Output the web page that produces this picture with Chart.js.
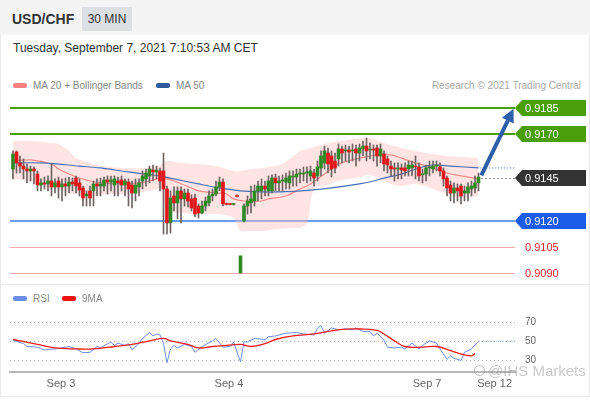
<!DOCTYPE html>
<html><head><meta charset="utf-8">
<script src="https://cdn.jsdelivr.net/npm/chart.js@4"></script>
<style>
body{margin:0;background:#fff;font-family:"Liberation Sans",Arial,sans-serif;}
#wrap{position:relative;width:590px;height:400px;overflow:hidden;background:#fff;}
#hdr{position:absolute;left:0;top:0;width:590px;height:35px;background:#f4f4f5;}
#sym{position:absolute;left:12px;top:11px;font-weight:bold;font-size:14px;line-height:16px;color:#333;}
#tf{position:absolute;left:82px;top:7px;width:50px;height:24px;background:#dcdfe4;font-size:12px;line-height:24px;text-align:center;color:#333;}
#date{position:absolute;left:13px;top:41px;font-size:12px;line-height:14px;color:#333;}
.leg{position:absolute;font-size:10px;line-height:12px;color:#888;white-space:nowrap;}
.leg i{display:inline-block;width:14px;height:5px;border-radius:2px;margin-right:6px;vertical-align:1px;}
#rc{position:absolute;right:9px;top:80px;font-size:10px;line-height:12px;color:#aaa;}
#bl{position:absolute;left:0;top:35px;width:588px;height:361px;border:1px solid #e9e9e9;border-top:none;}
#sep{position:absolute;left:0;top:284px;width:590px;height:1px;background:#e6e6e6;}
#wm{position:absolute;left:474px;top:362px;font-size:15px;line-height:18px;color:rgba(120,120,120,0.4);white-space:nowrap;}
#wm b{display:inline-block;width:9px;height:9px;border:1.5px solid rgba(120,120,120,0.45);border-radius:50%;margin-right:3px;vertical-align:0px;}
canvas{position:absolute;left:0;}
</style></head>
<body><div id="wrap">
<div id="hdr"><span id="sym">USD/CHF</span><span id="tf">30 MIN</span></div>
<div id="bl"></div>
<div id="date">Tuesday, September 7, 2021 7:10:53 AM CET</div>
<div class="leg" style="left:13px;top:80px"><i style="background:#ff8080"></i>MA 20 + Bollinger Bands</div>
<div class="leg" style="left:156px;top:80px"><i style="background:#2f5a9c"></i>MA 50</div>
<div id="rc">Research © 2021 Trading Central</div>
<canvas id="main" width="590" height="190" style="top:96px"></canvas>
<div id="sep"></div>
<div class="leg" style="left:13px;top:293px"><i style="background:#6a8ee8"></i>RSI</div>
<div class="leg" style="left:62px;top:293px"><i style="background:#ee1111"></i>9MA</div>
<canvas id="rsi" width="590" height="112" style="top:285px"></canvas>
<div id="wm"><b></b>@IHS Markets</div>
</div>
<script>
const opens = [0.91499,0.91597,0.91534,0.91516,0.91499,0.91488,0.91499,0.91470,0.91407,0.91419,
0.91413,0.91430,0.91396,0.91430,0.91396,0.91413,0.91401,0.91424,0.91447,0.91419,
0.91390,0.91344,0.91373,0.91373,0.91413,0.91401,0.91401,0.91436,0.91424,0.91407,
0.91430,0.91436,0.91407,0.91424,0.91407,0.91361,0.91396,0.91430,0.91442,0.91459,
0.91493,0.91482,0.91488,0.91488,0.91384,0.91189,0.91344,0.91304,0.91373,0.91327,
0.91361,0.91327,0.91332,0.91286,0.91246,0.91286,0.91304,0.91344,0.91355,0.91396,
0.91424,0.91298,0.91298,0.91295,0.91344,0.90901,0.91200,0.91286,0.91304,0.91315,
0.91373,0.91373,0.91401,0.91373,0.91373,0.91447,0.91419,0.91430,0.91424,0.91419,
0.91453,0.91453,0.91470,0.91470,0.91476,0.91459,0.91476,0.91459,0.91505,0.91534,
0.91591,0.91574,0.91545,0.91557,0.91614,0.91603,0.91608,0.91603,0.91614,0.91591,
0.91614,0.91631,0.91608,0.91614,0.91620,0.91574,0.91585,0.91557,0.91516,0.91505,
0.91499,0.91505,0.91505,0.91499,0.91505,0.91516,0.91511,0.91465,0.91470,0.91505,
0.91499,0.91516,0.91511,0.91488,0.91447,0.91407,0.91361,0.91390,0.91401,0.91361,
0.91361,0.91384,0.91390,0.91419];
const highs = [0.91603,0.91603,0.91574,0.91557,0.91528,0.91516,0.91511,0.91488,0.91442,0.91453,
0.91459,0.91528,0.91442,0.91453,0.91442,0.91447,0.91453,0.91447,0.91459,0.91442,
0.91401,0.91373,0.91401,0.91430,0.91442,0.91447,0.91453,0.91459,0.91459,0.91459,
0.91453,0.91459,0.91442,0.91442,0.91430,0.91442,0.91442,0.91488,0.91499,0.91516,
0.91522,0.91516,0.91505,0.91591,0.91401,0.91373,0.91396,0.91396,0.91396,0.91384,
0.91384,0.91350,0.91355,0.91298,0.91315,0.91338,0.91373,0.91384,0.91430,0.91453,
0.91442,0.91304,0.91300,0.91300,0.91350,0.90999,0.91298,0.91344,0.91401,0.91407,
0.91430,0.91442,0.91430,0.91459,0.91465,0.91470,0.91459,0.91465,0.91476,0.91488,
0.91488,0.91499,0.91499,0.91511,0.91511,0.91516,0.91499,0.91545,0.91603,0.91631,
0.91620,0.91603,0.91591,0.91643,0.91631,0.91637,0.91631,0.91643,0.91637,0.91643,
0.91660,0.91677,0.91649,0.91637,0.91637,0.91643,0.91603,0.91574,0.91545,0.91534,
0.91534,0.91528,0.91534,0.91545,0.91545,0.91574,0.91534,0.91499,0.91522,0.91545,
0.91545,0.91545,0.91534,0.91505,0.91459,0.91430,0.91419,0.91413,0.91413,0.91401,
0.91419,0.91430,0.91459,0.91476];
const lows = [0.91442,0.91476,0.91476,0.91442,0.91419,0.91430,0.91413,0.91373,0.91373,0.91384,
0.91373,0.91344,0.91361,0.91332,0.91315,0.91344,0.91361,0.91373,0.91361,0.91344,
0.91286,0.91286,0.91286,0.91286,0.91344,0.91344,0.91373,0.91355,0.91373,0.91344,
0.91344,0.91373,0.91344,0.91286,0.91275,0.91315,0.91344,0.91384,0.91401,0.91419,
0.91430,0.91442,0.91373,0.91125,0.91125,0.91131,0.91258,0.91212,0.91189,0.91286,
0.91281,0.91258,0.91223,0.91217,0.91240,0.91258,0.91286,0.91315,0.91344,0.91373,
0.91286,0.91292,0.91292,0.91292,0.91338,0.90901,0.91194,0.91240,0.91246,0.91286,
0.91315,0.91327,0.91344,0.91344,0.91361,0.91373,0.91373,0.91373,0.91384,0.91384,
0.91401,0.91401,0.91419,0.91430,0.91419,0.91430,0.91401,0.91430,0.91459,0.91499,
0.91476,0.91453,0.91476,0.91516,0.91534,0.91545,0.91534,0.91545,0.91516,0.91545,
0.91574,0.91545,0.91557,0.91545,0.91516,0.91534,0.91488,0.91476,0.91459,0.91430,
0.91442,0.91442,0.91459,0.91459,0.91459,0.91442,0.91430,0.91419,0.91430,0.91459,
0.91476,0.91488,0.91459,0.91401,0.91344,0.91315,0.91304,0.91315,0.91298,0.91315,
0.91315,0.91344,0.91361,0.91373];
const closes = [0.91585,0.91534,0.91516,0.91499,0.91488,0.91499,0.91488,0.91407,0.91419,0.91413,
0.91430,0.91396,0.91419,0.91396,0.91413,0.91401,0.91424,0.91413,0.91401,0.91378,
0.91332,0.91355,0.91332,0.91413,0.91401,0.91413,0.91436,0.91424,0.91436,0.91442,
0.91419,0.91407,0.91430,0.91384,0.91361,0.91407,0.91419,0.91459,0.91476,0.91499,
0.91482,0.91493,0.91430,0.91384,0.91189,0.91332,0.91304,0.91373,0.91327,0.91361,
0.91315,0.91275,0.91240,0.91246,0.91286,0.91315,0.91344,0.91355,0.91396,0.91424,
0.91298,0.91295,0.91295,0.91298,0.91341,0.90999,0.91286,0.91315,0.91327,0.91373,
0.91401,0.91401,0.91384,0.91430,0.91447,0.91419,0.91430,0.91436,0.91447,0.91459,
0.91459,0.91470,0.91476,0.91476,0.91482,0.91488,0.91447,0.91511,0.91574,0.91603,
0.91528,0.91499,0.91505,0.91614,0.91591,0.91608,0.91597,0.91608,0.91591,0.91620,
0.91631,0.91603,0.91614,0.91608,0.91574,0.91614,0.91528,0.91522,0.91499,0.91499,
0.91505,0.91493,0.91488,0.91522,0.91522,0.91511,0.91459,0.91470,0.91505,0.91511,
0.91516,0.91522,0.91488,0.91442,0.91390,0.91361,0.91390,0.91373,0.91344,0.91373,
0.91396,0.91401,0.91419,0.91453];

const ma20X = [0,5,11,13,16,19,22,25,31,36,39,42,43,46,51,53,58,61,63,66,71,73,78,82,85,89,93,98,102,105,108,111,115,120,124,128,133];
const ma20Y = [0.91545,0.91551,0.91528,0.91499,0.91470,0.91447,0.91430,0.91419,0.91413,0.91419,0.91430,0.91447,0.91447,0.91430,0.91390,0.91373,0.91361,0.91355,0.91327,0.91315,0.91315,0.91327,0.91344,0.91384,0.91413,0.91470,0.91528,0.91557,0.91574,0.91585,0.91580,0.91562,0.91534,0.91505,0.91476,0.91459,0.91442];
const ma50X = [0,8,19,25,33,42,46,53,59,65,71,76,85,91,99,103,106,111,116,120,125,133];
const ma50Y = [0.91534,0.91534,0.91516,0.91505,0.91482,0.91459,0.91442,0.91413,0.91390,0.91373,0.91367,0.91367,0.91378,0.91390,0.91413,0.91430,0.91447,0.91470,0.91505,0.91522,0.91516,0.91505];
const ma50ExtX = [133.5,143.4];
const ma50ExtY = [0.91505,0.91505];
const bbX = [0,5,11,13,16,18,22,25,28,31,33,39,42,44,48,53,58,63,65,68,71,76,79,82,84,86,89,93,98,102,106,108,111,115,120,124,129,133];
const bbUpper = [0.91660,0.91660,0.91649,0.91643,0.91603,0.91562,0.91534,0.91516,0.91511,0.91505,0.91505,0.91505,0.91522,0.91545,0.91534,0.91528,0.91516,0.91488,0.91488,0.91499,0.91505,0.91522,0.91557,0.91603,0.91614,0.91626,0.91643,0.91660,0.91672,0.91677,0.91649,0.91637,0.91620,0.91603,0.91585,0.91574,0.91568,0.91562];
const bbLower = [0.91442,0.91430,0.91384,0.91378,0.91361,0.91355,0.91344,0.91350,0.91355,0.91355,0.91355,0.91373,0.91384,0.91258,0.91246,0.91240,0.91240,0.91217,0.91143,0.91143,0.91143,0.91154,0.91160,0.91160,0.91189,0.91384,0.91401,0.91430,0.91447,0.91465,0.91430,0.91413,0.91401,0.91413,0.91384,0.91355,0.91332,0.91344];

const rsiX = [0,3,4,7,9,12,14,16,18,20,22,24,25,28,29,30,32,33,34,36,37,39,40,41,42,43,44,45,46,47,49,51,52,54,57,58,60,62,63,65,66,67,69,72,73,75,78,81,83,86,87,88,89,91,93,95,97,98,100,102,103,104,106,107,109,111,112,114,116,117,119,121,122,124,125,126,128,129,131,132,133];
const rsiV = [51.1,47.5,44.5,43.8,41,42,43,44.5,42,38,38.4,44.5,43,49.3,45.6,48,45.6,47.5,41.3,47.5,53,59,55.5,57.6,56.5,48,27.5,42,45.6,43,46.7,44.5,38.4,44.5,50.4,52.9,43.8,44.5,49.3,28.5,49.3,49.3,52.9,51.8,54.7,55.5,58.4,59.1,57.6,56.5,63.8,66.4,58.4,63.8,62,62.7,62,63.8,60.2,60.2,55.5,58.4,51.1,43.8,43,43.8,42,48,42,45.6,50.4,48,42,31.1,34.7,32.2,30,38.4,42,46,50];
const rsiMaX = [0,7,12,18,23,29,34,39,43,45,50,53,57,61,65,68,72,75,80,86,90,95,100,104,106,109,112,117,121,125,129,131,132];
const rsiMaV = [51.8,46.7,43,42,42,44.5,46.7,50.4,52.9,50.4,46.7,43,44.5,45.6,46.7,44.5,47.5,51.8,55.5,57.6,60.2,62.7,62.7,61.3,57.6,50.4,44.5,43.8,44.5,40.2,35.8,34.7,37.3];
const rsiExtX = [133,143.4];
const rsiExtV = [50,50];
const rsiTicks = [30,50,70];

const tickPos = [13.7,61.7,118.3,137.6];
const tickLabels = ['Sep 3','Sep 4','Sep 7','Sep 12'];
const levelPrices = [0.9185,0.9170,0.9145,0.9120,0.9105,0.9090];
const levelLabels = ['0.9185','0.9170','0.9145','0.9120','0.9105','0.9090'];
const arrowX = [133.8,143.0];
const arrowY = [0.91462,0.91845];

const X_MIN = -0.857, X_MAX = 143.43;
const FONT = '"Liberation Sans", Arial, sans-serif';
const pts = (xs, ys) => xs.map((x, i) => ({x: x, y: ys[i]}));
const GREEN = '#2f8a26', RED = '#e0181c';

const levelStyle = [
  {line:'#4a9e0a', w:2, box:'#4a9e0a', text:'#fff'},
  {line:'#4a9e0a', w:2, box:'#4a9e0a', text:'#fff'},
  {line:'#333', w:1, dash:[1,3], box:'#333333', text:'#fff', fromLast:true},
  {line:'#6d9bf2', w:2, box:'#1c5ce8', text:'#fff'},
  {line:'#f7a8a8', w:1, box:null, text:'#e8272a'},
  {line:'#f7a8a8', w:1, box:null, text:'#e8272a'}
];

const levelPlugin = {
  id: 'levels',
  beforeDatasetsDraw(chart) {
    const {ctx, chartArea: a, scales: {x, y}} = chart;
    levelPrices.forEach((p, i) => {
      const s = levelStyle[i];
      const py = Math.round(y.getPixelForValue(p)) + (s.w % 2 ? 0.5 : 0);
      const x0 = s.fromLast ? x.getPixelForValue(closes.length - 1) + 3 : a.left;
      ctx.save();
      ctx.strokeStyle = s.line; ctx.lineWidth = s.w; ctx.setLineDash(s.dash || []);
      ctx.beginPath(); ctx.moveTo(x0, py); ctx.lineTo(a.right, py); ctx.stroke();
      ctx.restore();
    });
  },
  afterDatasetsDraw(chart) {
    const {ctx, chartArea: a, scales: {x, y}} = chart;
    const x0 = x.getPixelForValue(arrowX[0]), y0 = y.getPixelForValue(arrowY[0]);
    const x1 = x.getPixelForValue(arrowX[1]), y1 = y.getPixelForValue(arrowY[1]);
    const ang = Math.atan2(y1 - y0, x1 - x0), hl = 13, hw = 6.5;
    const bx = x1 - hl * Math.cos(ang), by = y1 - hl * Math.sin(ang);
    ctx.save();
    ctx.strokeStyle = '#2d5ea8'; ctx.fillStyle = '#2d5ea8'; ctx.lineWidth = 4; ctx.lineCap = 'butt';
    ctx.beginPath(); ctx.moveTo(x0, y0); ctx.lineTo(bx, by); ctx.stroke();
    ctx.beginPath(); ctx.moveTo(x1, y1);
    ctx.lineTo(bx + hw * Math.sin(ang), by - hw * Math.cos(ang));
    ctx.lineTo(bx - hw * Math.sin(ang), by + hw * Math.cos(ang));
    ctx.closePath(); ctx.fill();
    ctx.restore();
    levelPrices.forEach((p, i) => {
      const s = levelStyle[i];
      const py = Math.round(y.getPixelForValue(p));
      ctx.save();
      if (s.box) {
        const L = a.right, R = L + 71;
        ctx.fillStyle = s.box;
        ctx.beginPath();
        ctx.moveTo(L, py); ctx.lineTo(L + 7, py - 8); ctx.lineTo(R, py - 8);
        ctx.lineTo(R, py + 8); ctx.lineTo(L + 7, py + 8); ctx.closePath(); ctx.fill();
      }
      ctx.fillStyle = s.text; ctx.font = '11px ' + FONT; ctx.textBaseline = 'middle';
      ctx.fillText(levelLabels[i], a.right + 10, py + 0.5);
      ctx.restore();
    });
  }
};

const wickData = closes.map((c, i) => ({x: i, y: [lows[i], highs[i]]}));
const bodyData = closes.map((c, i) => ({x: i, y: [opens[i], c]}));
const bodyColors = closes.map((c, i) => c >= opens[i] ? GREEN : RED);

new Chart(document.getElementById('main'), {
  data: {
    datasets: [
      {type:'bar', data: bodyData, backgroundColor: bodyColors, barThickness: 3, grouped: false, minBarLength: 1, order: 1},
      {type:'bar', data: wickData, backgroundColor: '#6e6262', barThickness: 1, grouped: false, order: 2},
      {type:'line', data: pts(ma50X, ma50Y), borderColor: '#4a70b5', borderWidth: 1.2, pointRadius: 0, tension: 0.35, fill: false, order: 4},
      {type:'line', data: pts(ma50ExtX, ma50ExtY), borderColor: '#4a70b5', borderWidth: 1, borderDash: [1,2], pointRadius: 0, fill: false, order: 4},
      {type:'line', data: pts(ma20X, ma20Y), borderColor: '#f48a8a', borderWidth: 1.2, pointRadius: 0, tension: 0.35, fill: false, order: 5},
      {type:'line', data: pts(bbX, bbUpper), borderWidth: 0, borderColor: 'rgba(0,0,0,0)', pointRadius: 0, tension: 0.3, fill: false, order: 9},
      {type:'line', data: pts(bbX, bbLower), borderWidth: 0, borderColor: 'rgba(0,0,0,0)', pointRadius: 0, tension: 0.3, fill: '-1', backgroundColor: 'rgba(255,190,190,0.42)', order: 10}
    ]
  },
  options: {
    responsive: false, animation: false, events: [],
    layout: {padding: {left: 10, right: 75, top: 0, bottom: 0}},
    plugins: {legend: {display: false}, tooltip: {enabled: false}},
    scales: {
      x: {type: 'linear', min: X_MIN, max: X_MAX, offset: false, display: false},
      y: {type: 'linear', min: 0.90826, max: 0.91919, display: false}
    }
  },
  plugins: [levelPlugin]
});

new Chart(document.getElementById('rsi'), {
  type: 'line',
  data: {
    datasets: [
      {data: pts(rsiMaX, rsiMaV), borderColor: '#ec1c1c', borderWidth: 1.3, pointRadius: 0, tension: 0.4},
      {data: pts(rsiX, rsiV), borderColor: '#6a8ee8', borderWidth: 1, pointRadius: 0, tension: 0},
      {data: pts(rsiExtX, rsiExtV), borderColor: '#6a8ee8', borderWidth: 1, borderDash: [1,2], pointRadius: 0}
    ]
  },
  options: {
    responsive: false, animation: false, events: [],
    layout: {padding: {left: 10, right: 0, top: 0, bottom: 0}},
    plugins: {legend: {display: false}, tooltip: {enabled: false}},
    scales: {
      x: {
        type: 'linear', min: X_MIN, max: X_MAX, position: 'bottom', offset: false,
        grid: {display: true, drawOnChartArea: false, drawTicks: false},
        border: {display: true, color: '#b8b8b8', width: 2},
        afterBuildTicks: s => { s.ticks = tickPos.map(v => ({value: v})); },
        ticks: {autoSkip: false, maxRotation: 0, minRotation: 0, padding: 6, color: '#666',
          font: {family: FONT, size: 11}, callback: (v, i) => tickLabels[i]}
      },
      y: {
        type: 'linear', position: 'right', min: 18.1, max: 102.4,
        afterFit: s => { s.width = 75; },
        afterBuildTicks: s => { s.ticks = rsiTicks.map(v => ({value: v})); },
        grid: {color: '#b5b5b5', drawTicks: true, tickLength: 10, tickColor: 'rgba(0,0,0,0)', lineWidth: 1},
        border: {display: false, dash: [1,3]},
        ticks: {padding: 0, color: '#666', font: {family: FONT, size: 10}}
      }
    }
  }
});
</script>
</body></html>
